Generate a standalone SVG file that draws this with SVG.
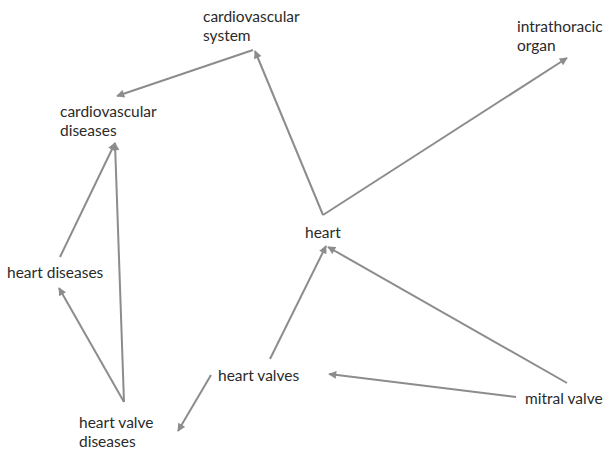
<svg xmlns="http://www.w3.org/2000/svg" width="606" height="452" viewBox="0 0 606 452">
<style>
text{font-family:Lato,"Liberation Sans",sans-serif;font-size:15.5px;fill:#2a2a2a}
.e{stroke:#8c8c8c;stroke-width:2;fill:none;marker-end:url(#a)}
</style>
<defs>
<marker id="a" viewBox="0 0 10 10" refX="9" refY="5" markerWidth="4.5" markerHeight="4" orient="auto" markerUnits="strokeWidth">
<path d="M0,0 L10,5 L0,10 z" fill="#8c8c8c"/>
</marker>
</defs>
<rect width="606" height="452" fill="#fff"/>
<g id="connectors">
<line class="e" x1="253" y1="50" x2="117" y2="96"/>
<line class="e" x1="323" y1="215" x2="255" y2="51"/>
<line class="e" x1="323" y1="215" x2="567" y2="58"/>
<line class="e" x1="270" y1="359" x2="326" y2="246"/>
<line class="e" x1="567" y1="383" x2="328" y2="247"/>
<line class="e" x1="516" y1="397" x2="329" y2="374"/>
<line class="e" x1="211" y1="375" x2="178" y2="431"/>
<line class="e" x1="124" y1="402" x2="59" y2="288"/>
<line class="e" x1="124" y1="402" x2="115" y2="143"/>
<line class="e" x1="60" y1="257" x2="115" y2="143"/>
</g>
<g id="n-cardiovascular-system"><text x="203" y="22">cardiovascular</text><text x="203" y="41">system</text></g>
<g id="n-intrathoracic-organ"><text x="517" y="32">intrathoracic</text><text x="517" y="51">organ</text></g>
<g id="n-cardiovascular-diseases"><text x="60" y="117">cardiovascular</text><text x="60" y="136">diseases</text></g>
<g id="n-heart"><text x="305" y="238">heart</text></g>
<g id="n-heart-diseases"><text x="7" y="278">heart diseases</text></g>
<g id="n-heart-valves"><text x="218" y="381">heart valves</text></g>
<g id="n-mitral-valve"><text x="525" y="404">mitral valve</text></g>
<g id="n-heart-valve-diseases"><text x="79" y="428">heart valve</text><text x="79" y="447">diseases</text></g>
</svg>
